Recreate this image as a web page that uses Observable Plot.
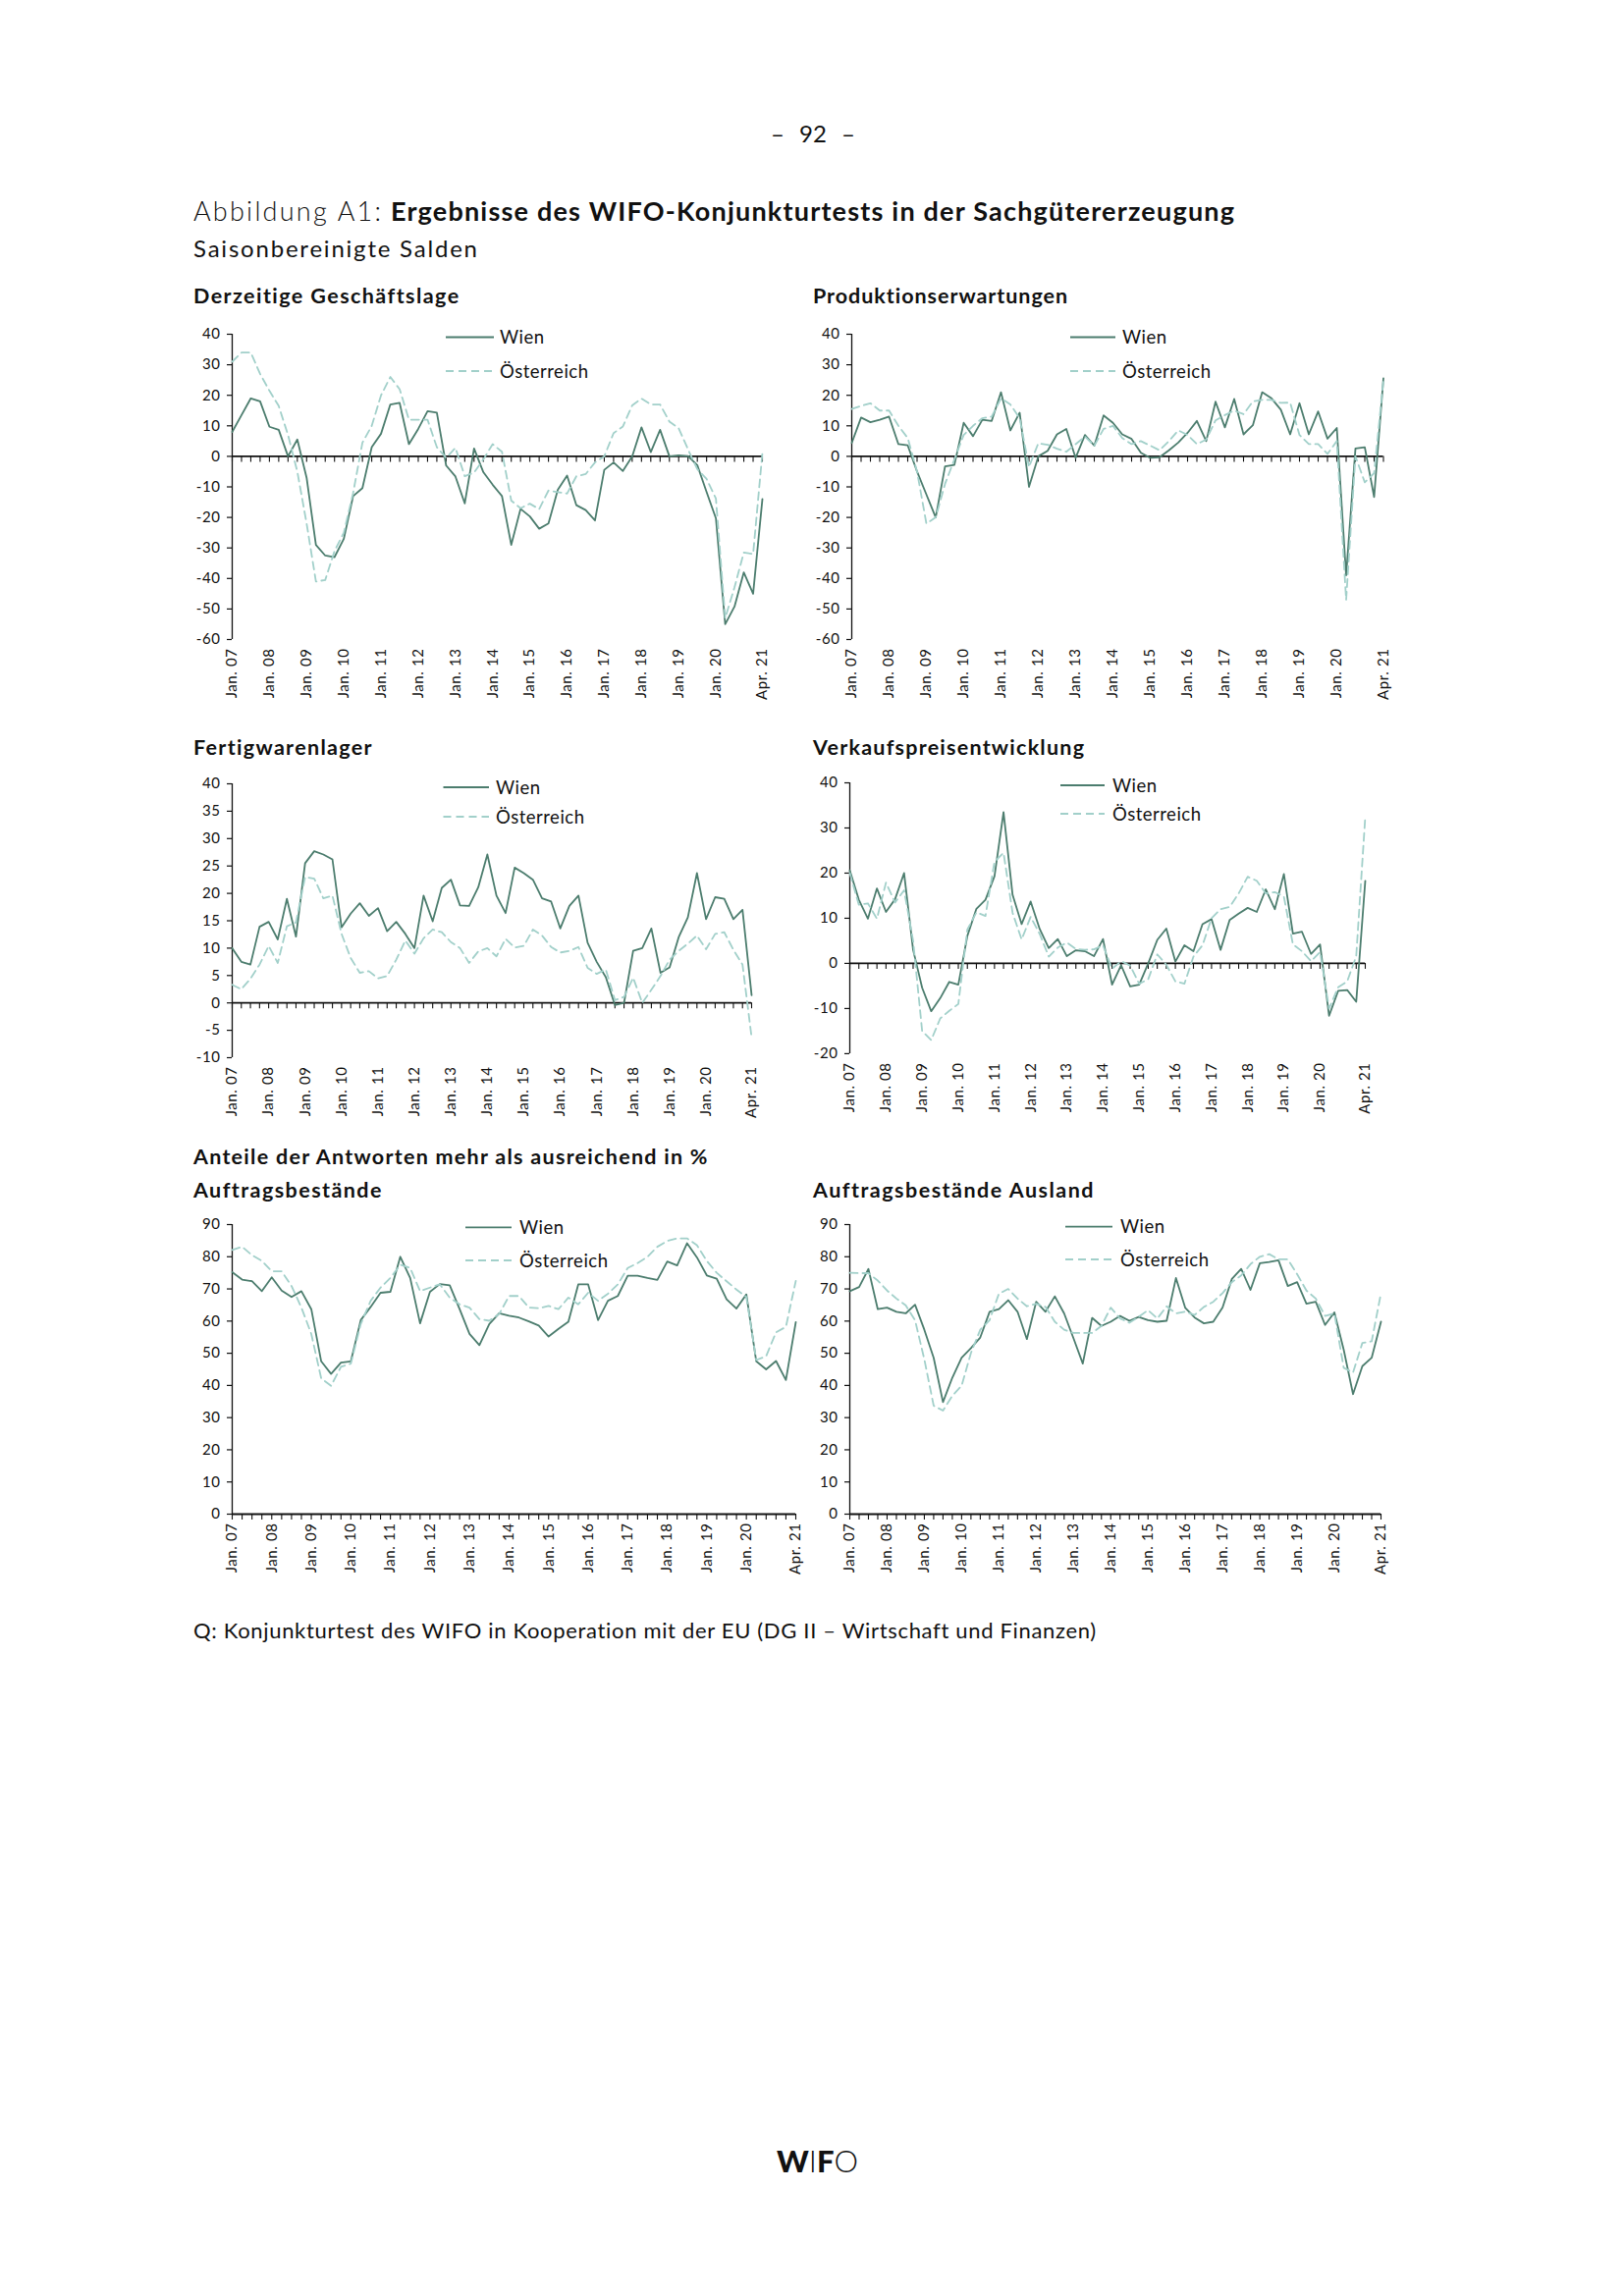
<!DOCTYPE html>
<html><head><meta charset="utf-8">
<script src="https://cdn.jsdelivr.net/npm/d3@7"></script>
<script src="https://cdn.jsdelivr.net/npm/@observablehq/plot@0.6"></script>
<style>
body{margin:0;background:#fff;}
#page{position:relative;width:1654px;height:2339px;overflow:hidden;font-family:Lato,"Open Sans",sans-serif;color:#111;background:#fff;}
.t{position:absolute;white-space:nowrap;line-height:1;}
</style></head><body><div id="page"></div><script>
// ---------- data ----------
const quarters = d3.range(2007, 2022).flatMap(y => [1,2,3,4].map(q => `${y}Q${q}`)).slice(0, 58);
const tickQuarters = ["2007Q1","2008Q1","2009Q1","2010Q1","2011Q1","2012Q1","2013Q1","2014Q1","2015Q1","2016Q1","2017Q1","2018Q1","2019Q1","2020Q1","2021Q2"];
const tickLabels = ["Jan. 07","Jan. 08","Jan. 09","Jan. 10","Jan. 11","Jan. 12","Jan. 13","Jan. 14","Jan. 15","Jan. 16","Jan. 17","Jan. 18","Jan. 19","Jan. 20","Apr. 21"];
const seriesNames = ["Wien", "Österreich"];

const lageWien = [8,13.5,19,18,9.7,8.7,0,5.5,-7,-29,-32.5,-33,-27,-13,-10.4,3,7.4,17,17.5,4,9,14.8,14.3,-3,-6.6,-15.4,2.6,-5.2,-9.3,-13,-29,-17.2,-19.7,-23.7,-22,-11,-6.3,-16,-17.6,-21,-4.4,-2,-4.8,0,9.5,1.4,8.7,0,0.3,0.1,-2.9,-11.7,-20.3,-55,-49.2,-38,-45,-14];
const lageOe = [31,34,34,27,21.5,16.5,7,-5,-22,-41,-40.5,-31,-25,-12,4.5,10,20,26,22,12,12,12,3,-0.5,2.8,-6.5,-5.3,-1,4,1.5,-14.5,-17,-15.5,-17.3,-11.2,-11.7,-12.2,-6.5,-5.8,-2,0,7.6,9.8,16.7,18.9,17,17,11.4,9.2,2.3,-4.2,-7.4,-13.8,-53,-42.9,-31.5,-32,1.2];

const prodWien = [4.4,12.7,11.2,12,13,4,3.6,-5,-12.5,-20,-3.3,-2.8,11,6.6,12,11.6,21,8.5,14.3,-10,0,1.8,7.2,9,-0.5,7,3.5,13.4,11,7.2,5.7,1.2,-0.5,-0.3,2,4.5,7.7,11.6,5,17.9,9.5,18.8,7.2,10.2,21,19,15.3,7.2,17.4,7.2,14.7,5.8,9.3,-39,2.6,3,-13.3,25.6];
const prodOe = [15.5,16.5,17.4,15,15,10,6,-5,-22,-20,-9,-1,7,10,12.5,13,19,17,12.5,-3.5,4.3,3.8,2.5,1.5,4,6.5,3.5,9,10,6,4,5,3.5,2,5,8.5,7,4,5.5,11.8,13.5,15,13.8,18,18.5,18.5,17.5,17.6,7,4,4,0.8,5,-47,0,-8.5,-5.5,25];

const lagerWien = [10,7.5,7,13.9,14.8,11.6,19,12.1,25.5,27.7,27.1,26.2,13.8,16.3,18.2,15.9,17.3,13.1,14.8,12.6,10,19.6,14.9,21,22.5,17.8,17.7,21.1,27.1,19.6,16.4,24.7,23.7,22.5,19.1,18.5,13.6,17.7,19.6,11,7.5,4.7,-0.4,0,9.5,10,13.6,5.5,6.5,12,15.6,23.7,15.3,19.3,19,15.3,17,1.4];
const lagerOe = [3.3,2.5,4.4,7,10.4,7.3,14,14.7,23,22.7,19.1,19.6,12.6,8.2,5.5,5.8,4.5,4.9,7.9,11.4,9,11.8,13.4,12.9,11.1,10,7.3,9.4,10,8.5,11.7,10.1,10.4,13.4,12.3,10.2,9.2,9.5,10.2,6.4,5.3,6.1,0.5,1.1,4.6,0,2.4,4.9,7.9,9.5,10.8,12.3,9.8,12.6,12.9,9.7,7,-6.3];

const preisWien = [20.6,14.1,9.9,16.6,11.4,14.2,20,3,-5.4,-10.6,-7.7,-4.1,-4.7,6.1,12.1,14.1,19.3,33.5,15.2,8.7,13.7,7.6,3.4,5.4,1.6,2.9,2.7,1.6,5.4,-4.7,-0.4,-5.1,-4.7,0,5.2,7.7,0.4,4,2.7,8.7,9.8,3,9.6,11,12.3,11.4,16.4,12,19.8,6.6,7,2.1,4.2,-11.6,-6.1,-5.9,-8.5,18.3];
const preisOe = [20,13,13.3,9.9,17.9,13.5,16.2,5,-15,-17,-12.2,-10.5,-9,7.5,11.3,10.5,22.5,24.5,11.2,5.3,10.3,6.5,1.5,3.5,4.6,3.2,3,3.1,4,-1.2,0.5,-0.5,-4.5,-3.5,2,-0.3,-4,-4.5,1.5,4,10,12,12.5,15.5,19.2,18.3,15.5,15.8,14.8,4.2,2.7,0.5,2.5,-10,-5.3,-4,1.6,32.5];

const auftragWien = [75.2,72.9,72.4,69.3,73.6,69.5,67.5,69.3,63.7,47.5,43.6,47.1,47.5,60.3,64.4,68.8,69.1,80,73.4,59.3,69.1,71.5,71.1,63.7,56,52.5,59.1,62.4,61.7,61.1,59.9,58.6,55.2,57.6,59.8,71.4,71.4,60.3,66.3,67.8,74.1,74.1,73.4,72.8,78.5,77.3,84.2,79.8,74.2,73.2,66.8,63.9,68.3,47.5,45,47.6,41.7,59.7];
const auftragOe = [82.1,83.1,80.5,78.7,75.5,75.5,70.9,64.2,56,42.2,39.9,45.8,46.8,59.1,66.3,70.4,73.4,77.5,76.5,69.3,70.4,71.4,67.3,65.2,64.2,60.6,60.1,62.2,67.8,67.8,64.2,64,64.7,63.7,67.3,65.2,68.8,66.3,68.5,71.4,76.5,78,80,83.1,84.9,85.7,85.7,83.6,78.7,75,72.4,69.8,67.5,47.9,49.1,56.5,58.2,72.5];

const auslandWien = [69.3,70.6,76.2,63.7,64.2,62.9,62.4,65.1,57.3,48.6,34.8,42.4,48.6,51.6,54.9,62.9,63.7,66.5,62.9,54.4,66,62.9,67.7,62.4,54.7,46.8,61,58.5,59.8,61.6,60.1,61.3,60.3,59.8,60.1,73.4,64.1,61.1,59.3,59.8,64.2,73.1,76.2,69.7,78,78.4,78.9,70.9,72.1,65.4,66,58.8,62.7,51.1,37.3,46,48.6,59.8];
const auslandOe = [75,74.9,74.9,72.6,69.5,67,64.9,60.3,48.1,33.7,32.2,36.8,39.9,50.1,57.3,60.3,68.5,70,67,64.6,65.4,64.4,59.8,57.3,56.3,56.3,56.3,58.5,64.2,60.8,59.5,61.3,63.4,60.8,64.6,62.4,62.9,61.9,64.4,66,68.7,72.1,74.2,77.7,80,80.8,79.2,79.2,74.6,69.5,67,61.6,62.4,45.5,44,53.2,53.7,68.7];

// ---------- style ----------
const WIEN = "#4c7d6e", OE = "#a2d0ca";
const FONT = "Lato, 'Open Sans', sans-serif";
const page = document.getElementById("page");

function text(str, x, baseline, fs, weight, opts = {}) {
  const el = document.createElement("div");
  el.className = "t";
  el.textContent = str;
  el.style.fontSize = fs + "px";
  el.style.fontWeight = weight;
  el.style.top = (baseline - 0.887 * fs) + "px";
  el.style.left = x + "px";
  if (opts.wordSpacing) el.style.wordSpacing = opts.wordSpacing + "px";
  page.appendChild(el);
  if (opts.width) {
    const w = el.getBoundingClientRect().width;
    const ls = (opts.width - w) / Math.max(1, str.length - 1);
    el.style.letterSpacing = ls + "px";
  }
  if (opts.center) {
    const w = el.getBoundingClientRect().width;
    el.style.left = (x - w / 2) + "px";
  }
  return el;
}

function legend(lx1, lx2, tx, y1, y2) {
  const ns = "http://www.w3.org/2000/svg";
  const svg = document.createElementNS(ns, "svg");
  svg.setAttribute("width", 1654); svg.setAttribute("height", 2339);
  svg.style.position = "absolute"; svg.style.left = "0"; svg.style.top = "0";
  svg.style.pointerEvents = "none";
  const rows = [[y1, WIEN, null, seriesNames[0]], [y2, OE, "8,5", seriesNames[1]]];
  for (const [y, c, dash, name] of rows) {
    const l = document.createElementNS(ns, "line");
    l.setAttribute("x1", lx1); l.setAttribute("x2", lx2);
    l.setAttribute("y1", y); l.setAttribute("y2", y);
    l.setAttribute("stroke", c); l.setAttribute("stroke-width", 1.8);
    if (dash) l.setAttribute("stroke-dasharray", dash);
    svg.appendChild(l);
    const t = document.createElementNS(ns, "text");
    t.setAttribute("x", tx); t.setAttribute("y", y);
    t.setAttribute("dy", "0.36em");
    t.setAttribute("font-family", FONT);
    t.setAttribute("font-size", 18.5);
    t.setAttribute("letter-spacing", "0.5");
    t.setAttribute("fill", "#111");
    t.textContent = name;
    svg.appendChild(t);
  }
  page.appendChild(svg);
}

function panel(g, wien, oe) {
  const mL = 50, mR = 14, mT = 12, mB = 80;
  const W = g.right - g.left + mL + mR;
  const H = g.bottom - g.top + mT + mB;
  const data = quarters.map((q, i) => ({q, wien: wien[i], oe: oe[i]}));
  const yt = d3.range(g.domain[0], g.domain[1] + 0.001, g.step);
  const chart = Plot.plot({
    width: W, height: H,
    marginLeft: mL, marginRight: mR, marginTop: mT, marginBottom: mB,
    style: {fontFamily: FONT, fontSize: "15px", color: "#111", background: "transparent", overflow: "visible", letterSpacing: "0.6px"},
    x: {type: "point", domain: quarters, padding: 0, round: false, label: null},
    y: {domain: g.domain, label: null},
    marks: [
      Plot.axisY({ticks: yt, tickSize: 5, tickPadding: 7, label: null,
        tickFormat: d => d < 0 ? "-" + (-d) : String(d), strokeWidth: 1.2}),
      Plot.axisX({ticks: tickQuarters, tickSize: 0, tickPadding: 9, tickRotate: -90, label: null,
        tickFormat: q => tickLabels[tickQuarters.indexOf(q)]}),
      Plot.ruleX([quarters[0]], {stroke: "#111", strokeWidth: 1.3}),
      Plot.ruleX(quarters, {x: d => d, y1: 0, y2: 0, insetBottom: -6, stroke: "#111", strokeWidth: 1.1}),
      Plot.ruleY([0], {stroke: "#111", strokeWidth: 1.8}),
      Plot.line(data, {x: "q", y: "wien", stroke: WIEN, strokeWidth: 1.8}),
      Plot.line(data, {x: "q", y: "oe", stroke: OE, strokeWidth: 1.8, strokeDasharray: "8,5"})
    ]
  });
  chart.style.position = "absolute";
  chart.style.left = (g.left - mL) + "px";
  chart.style.top = (g.top - mT) + "px";
  page.appendChild(chart);
}

// ---------- header ----------
text("– 92 –", 828, 145, 24, 400, {center: true, wordSpacing: 9});
text("Abbildung A1:", 197, 224.5, 27, 300, {width: 191});
text("Ergebnisse des WIFO-Konjunkturtests in der Sachgütererzeugung", 398, 224.5, 27, 700, {width: 859});
text("Saisonbereinigte Salden", 197, 262.5, 24, 400, {width: 289});

// ---------- panel titles ----------
text("Derzeitige Geschäftslage", 197, 310, 21.5, 700, {width: 270});
text("Produktionserwartungen", 828, 310, 21.5, 700, {width: 259.5});
text("Fertigwarenlager", 197, 770, 21.5, 700, {width: 182});
text("Verkaufspreisentwicklung", 828, 770, 21.5, 700, {width: 276});
text("Anteile der Antworten mehr als ausreichend in %", 197, 1187, 21.5, 700, {width: 523.5});
text("Auftragsbestände", 197, 1221.5, 21.5, 700, {width: 191});
text("Auftragsbestände Ausland", 828, 1221.5, 21.5, 700, {width: 285});

// ---------- panels ----------
panel({left: 236, right: 776, top: 339.6, bottom: 650.6, domain: [-60, 40], step: 10}, lageWien, lageOe);
panel({left: 866.5, right: 1408, top: 339.6, bottom: 650.6, domain: [-60, 40], step: 10}, prodWien, prodOe);
panel({left: 236, right: 765, top: 798, bottom: 1077, domain: [-10, 40], step: 5}, lagerWien, lagerOe);
panel({left: 865, right: 1390, top: 796.5, bottom: 1072.4, domain: [-20, 40], step: 10}, preisWien, preisOe);
panel({left: 236, right: 810, top: 1247, bottom: 1542, domain: [0, 90], step: 10}, auftragWien, auftragOe);
panel({left: 865, right: 1406, top: 1247, bottom: 1542, domain: [0, 90], step: 10}, auslandWien, auslandOe);

legend(454, 503, 509, 343.5, 378);
legend(1090, 1136, 1143, 343.5, 378);
legend(451.5, 498, 505, 802, 832);
legend(1080, 1125, 1133, 800, 829);
legend(474, 521, 529, 1250.3, 1284);
legend(1085, 1133, 1141, 1249.6, 1283);

// ---------- source & logo ----------
text("Q: Konjunkturtest des WIFO in Kooperation mit der EU (DG II – Wirtschaft und Finanzen)", 197, 1670, 22, 400, {width: 919});
const logo = document.createElement("div");
logo.className = "t";
logo.style.left = "791px"; logo.style.top = (2213 - 0.887 * 31) + "px";
logo.style.fontSize = "31px";
logo.innerHTML = '<span style="font-weight:900">W</span><span style="font-weight:300">I</span><span style="font-weight:900">F</span><span style="font-weight:300">O</span>';
page.appendChild(logo);
</script></body></html>
